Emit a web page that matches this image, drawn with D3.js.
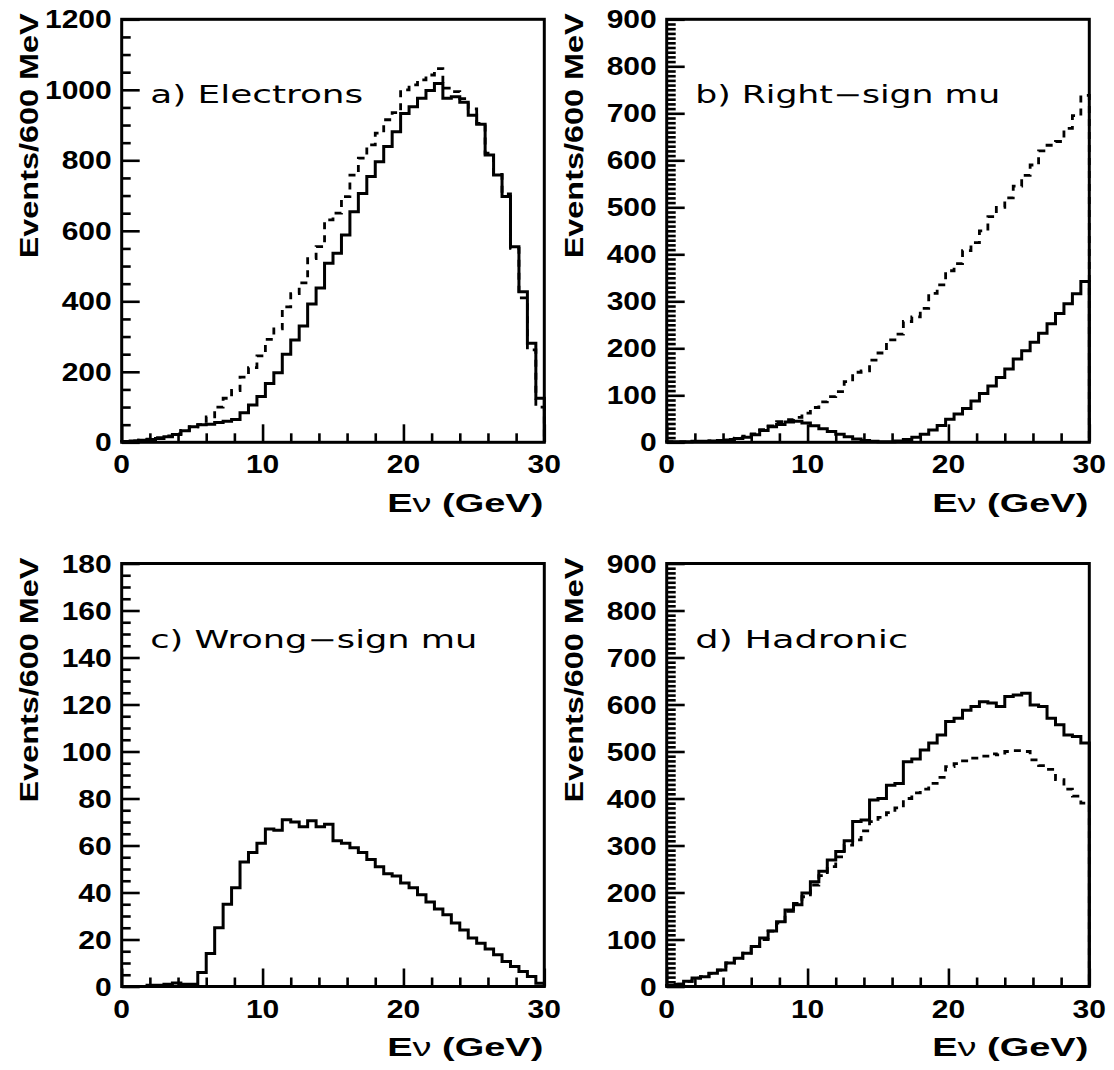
<!DOCTYPE html>
<html>
<head>
<meta charset="utf-8">
<script src="https://cdn.jsdelivr.net/npm/d3@7"></script>
<style>
  body { margin: 0; background: #fff; }
  svg { display: block; }
</style>
</head>
<body>
<svg id="chart" width="1114" height="1070"></svg>
<script>
// Neutrino energy spectra, 50 bins of 600 MeV from 0 to 30 GeV.
const binWidth = 0.6;          // GeV
const energyMax = 30;          // GeV
const energyTicks = [0, 10, 20, 30];

// a) Electrons
const electronsSolid = [2,4,6,8,11,16,22,33,44,50,51,56,60,65,84,106,130,167,197,250,
  290,330,392,438,508,536,588,654,706,754,796,839,881,933,952,976,998,1018,976,980,
  965,928,902,815,758,697,555,427,281,125];
const electronsDashed = [2,4,6,9,13,18,24,34,44,50,72,100,125,147,185,212,245,292,322,384,
  422,452,521,555,631,650,697,758,806,844,877,915,935,1000,1014,1028,1042,1060,1005,995,
  975,946,905,820,760,705,550,410,262,100];
const electronsYTicks = [0,200,400,600,800,1000,1200];

// b) Right-sign mu
const rightSignSolid = [1,1,1,2,2,3,4,5,8,11,16,25,33,38,43,45,41,35,29,23,
  17,12,7,4,2,1,1,3,6,11,17,26,36,49,60,72,88,104,120,138,
  156,177,195,213,232,252,274,295,316,342];
const rightSignDashed = [1,1,1,2,2,3,4,6,9,13,18,27,35,44,48,53,62,74,86,97,
  108,129,149,152,175,190,218,230,257,267,285,317,335,365,380,408,425,450,480,500,
  520,545,568,590,620,632,640,668,695,738];
const rightSignYTicks = [0,100,200,300,400,500,600,700,800,900];

// c) Wrong-sign mu
const wrongSignSolid = [0,0,0,0.5,0.5,1,1.5,1,1,6,14,25,35,42,53,57,61,67,66.5,71,
  70,68,70.5,68,69,62,61,59,57,54,51,48,47,44,42,39,36,33,30.5,27,
  24,20.6,18.4,16,13.5,10.6,8.5,6.4,4.3,1.4];
const wrongSignYTicks = [0,20,40,60,80,100,120,140,160,180];

// d) Hadronic
const hadronicSolid = [2,5,11,18,21,28,35,50,60,71,85,103,118,138,163,174,199,223,245,269,
  287,310,351,354,397,400,428,432,478,484,503,518,535,564,571,588,596,606,603,596,
  617,620,624,599,596,571,557,535,532,518];
const hadronicDashed = [2,5,11,18,21,28,35,50,60,71,85,100,118,135,160,177,191,216,236,255,
  276,301,312,331,351,360,370,380,400,412,420,432,445,468,474,480,486,490,495,493,
  500,502,500,482,470,462,440,420,405,390];
const hadronicYTicks = [0,100,200,300,400,500,600,700,800,900];

const yTitle = "Events/600 MeV";

// ---- layout ----
const PW = 422.6, PH = 423;
const panels = [
  { left: 121.7, top: 19.3,  label: "a) Electrons",          labelLen: 213,
    yTicks: electronsYTicks, yMinor: 50, solid: electronsSolid, dashed: electronsDashed },
  { left: 666.7, top: 19.3,  label: "b) Right\u2212sign mu", labelLen: 305,
    yTicks: rightSignYTicks, yMinor: 10, solid: rightSignSolid, dashed: rightSignDashed },
  { left: 121.7, top: 563.5, label: "c) Wrong\u2212sign mu", labelLen: 327,
    yTicks: wrongSignYTicks, yMinor: 5, solid: wrongSignSolid, dashed: null },
  { left: 666.7, top: 563.5, label: "d) Hadronic",           labelLen: 213,
    yTicks: hadronicYTicks, yMinor: 10, solid: hadronicSolid, dashed: hadronicDashed }
];

const svg = d3.select("#chart");
const numFont = "'Liberation Sans', Arial, Helvetica, sans-serif";

// histogram outline: baseline -> step through every bin -> baseline
function histPoints(values) {
  const pts = [[0, 0]];
  values.forEach((v, i) => {
    pts.push([i * binWidth, v]);
    pts.push([(i + 1) * binWidth, v]);
  });
  pts.push([energyMax, 0]);
  return pts;
}

panels.forEach(p => {
  const yMax = p.yTicks[p.yTicks.length - 1];
  const x = d3.scaleLinear().domain([0, energyMax]).range([0, PW]);
  const y = d3.scaleLinear().domain([0, yMax]).range([PH, 0]);
  const g = svg.append("g").attr("transform", `translate(${p.left},${p.top})`);

  const line = d3.line().x(d => x(d[0])).y(d => y(d[1]));

  if (p.dashed) {
    g.append("path")
      .attr("d", line(histPoints(p.dashed)))
      .attr("fill", "none").attr("stroke", "#000")
      .attr("stroke-width", 2.8)
      .attr("stroke-dasharray", "7,6");
  }
  g.append("path")
    .attr("d", line(histPoints(p.solid)))
    .attr("fill", "none").attr("stroke", "#000")
    .attr("stroke-width", 3)
    .attr("stroke-linejoin", "miter");

  // x ticks (inward)
  const xMinor = d3.range(0, energyMax + 0.001, 2).filter(v => v % 10 !== 0);
  const xAxisMinor = d3.axisBottom(x).tickValues(xMinor).tickSize(-9).tickFormat("");
  const xAxisMajor = d3.axisBottom(x).tickValues(energyTicks).tickSize(-18).tickFormat("");
  [xAxisMinor, xAxisMajor].forEach(ax => {
    const a = g.append("g").attr("transform", `translate(0,${PH})`).call(ax);
    a.select(".domain").remove();
    a.selectAll("line").attr("stroke", "#000").attr("stroke-width", 2.6);
  });

  // y ticks (inward)
  const majorStep = p.yTicks[1] - p.yTicks[0];
  const yMinorVals = d3.range(0, yMax + 1e-6, p.yMinor)
    .filter(v => Math.abs(v / majorStep - Math.round(v / majorStep)) > 1e-6);
  const yAxisMinor = d3.axisLeft(y).tickValues(yMinorVals).tickSize(-9).tickFormat("");
  const yAxisMajor = d3.axisLeft(y).tickValues(p.yTicks).tickSize(-18).tickFormat("");
  [yAxisMinor, yAxisMajor].forEach(ax => {
    const a = g.append("g").call(ax);
    a.select(".domain").remove();
    a.selectAll("line").attr("stroke", "#000").attr("stroke-width", 2.6);
  });

  // frame
  g.append("rect")
    .attr("x", 0).attr("y", 0).attr("width", PW).attr("height", PH)
    .attr("fill", "none").attr("stroke", "#000").attr("stroke-width", 3);

  // y tick labels
  p.yTicks.forEach(v => {
    g.append("text")
      .attr("transform", `translate(-10,${y(v) + 9}) scale(1.2,1)`)
      .attr("text-anchor", "end")
      .attr("font-family", numFont).attr("font-weight", "bold")
      .attr("font-size", 25)
      .text(v);
  });

  // x tick labels
  energyTicks.forEach(v => {
    g.append("text")
      .attr("transform", `translate(${x(v)},${PH + 31}) scale(1.2,1)`)
      .attr("text-anchor", "middle")
      .attr("font-family", numFont).attr("font-weight", "bold")
      .attr("font-size", 25)
      .text(v);
  });

  // axis titles
  g.append("text")
    .attr("transform", `translate(-83.7,-6) rotate(-90)`)
    .attr("text-anchor", "end")
    .attr("font-family", numFont).attr("font-weight", "bold")
    .attr("font-size", 26)
    .attr("textLength", 245).attr("lengthAdjust", "spacingAndGlyphs")
    .text(yTitle);

  const xt = g.append("text")
    .attr("x", PW - 157).attr("y", PH + 69.7)
    .attr("font-family", numFont).attr("font-weight", "bold")
    .attr("font-size", 26)
    .attr("textLength", 156).attr("lengthAdjust", "spacingAndGlyphs");
  xt.append("tspan").text("E");
  xt.append("tspan").attr("font-weight", "normal").text("\u03BD");
  xt.append("tspan").text(" (GeV)");

  // panel label
  g.append("text")
    .attr("x", 28.5).attr("y", 84)
    .attr("font-family", "'DejaVu Sans', sans-serif")
    .attr("font-size", 24)
    .attr("textLength", p.labelLen).attr("lengthAdjust", "spacingAndGlyphs")
    .text(p.label);
});
</script>
</body>
</html>
